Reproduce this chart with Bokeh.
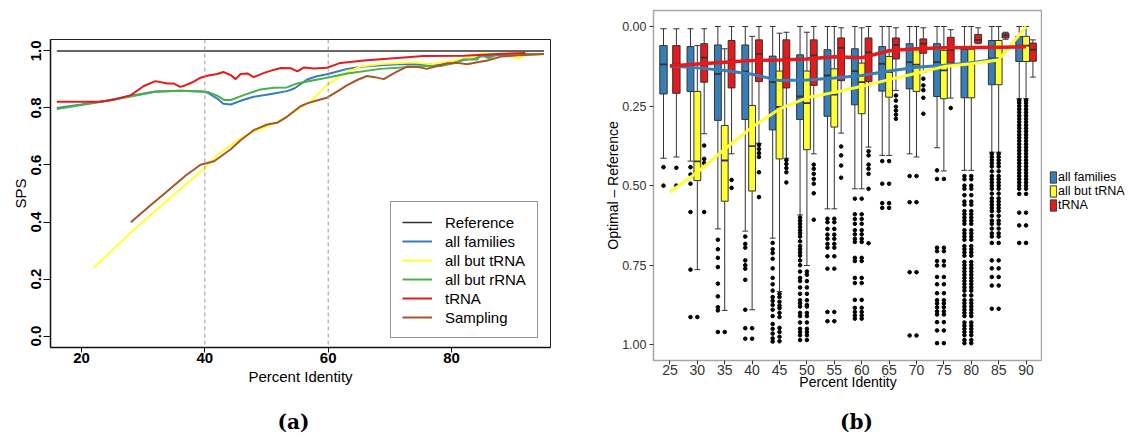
import numpy as np
from bokeh.plotting import figure
from bokeh.models import (Range1d, FixedTicker, NumeralTickFormatter, Span, Legend,
                          LegendItem, CustomJSTickFormatter)
from bokeh.layouts import row, column
from bokeh.embed import file_html
from bokeh.resources import INLINE
from bokeh.core.properties import value

FONT = "Liberation Sans"
BLUE, YELLOW, GREEN, RED, BROWN = "#377EB8", "#FFFF33", "#4DAF4A", "#E41A1C", "#A65628"

# ---------------- panel (a): SPS against percent identity ----------------
ref_x = [16, 95]
ref_y = [1.0, 1.0]

fam_x = [16, 20, 24, 28, 32, 36, 39.5, 40.5, 42, 43, 44.2, 45.8, 47.9, 50, 51.2, 53.3, 54.5,
         55.5, 56.6, 58, 59.8, 61.5, 63.1, 65.8, 68.5, 71.2, 75.5, 78.2, 80, 82, 84.7, 87.4, 91, 95]
fam_y = [0.800, 0.812, 0.825, 0.843, 0.858, 0.860, 0.858, 0.853, 0.833, 0.815, 0.812, 0.825,
         0.839, 0.846, 0.851, 0.859, 0.868, 0.883, 0.900, 0.910, 0.918, 0.928, 0.937, 0.945,
         0.950, 0.953, 0.953, 0.953, 0.958, 0.968, 0.980, 0.985, 0.987, 0.989]

notrna_x = [22, 28.1, 34, 40.2, 42, 44.2, 46, 47.9, 50, 52.3, 55.5, 57.1, 59.8, 62.5, 65.2, 68.5,
            73.9, 76.6, 79.3, 83.6, 84.7, 86.8, 89, 90.8, 92.2, 95]
notrna_y = [0.240, 0.365, 0.478, 0.593, 0.635, 0.669, 0.695, 0.716, 0.735, 0.754, 0.802, 0.822,
            0.880, 0.919, 0.945, 0.954, 0.960, 0.953, 0.962, 0.978, 0.990, 0.990, 0.988, 0.972,
            0.988, 0.989]

norrna_x = [16, 20, 24, 28, 32, 36, 39.5, 40.5, 42, 43.1, 44.2, 46.3, 49, 51.2, 53.3, 55, 56.6,
            59.8, 63.1, 68.5, 75.5, 78.2, 80, 82, 84.2, 84.7, 86.1, 87.4, 91, 95]
norrna_y = [0.796, 0.810, 0.824, 0.840, 0.857, 0.860, 0.858, 0.856, 0.843, 0.828, 0.828, 0.845,
            0.865, 0.871, 0.872, 0.886, 0.893, 0.906, 0.921, 0.937, 0.947, 0.947, 0.955, 0.970,
            0.970, 0.986, 0.974, 0.989, 0.988, 0.989]

trna_x = [16, 20, 23, 25.5, 28, 30.1, 32, 33.9, 34.9, 36, 36.8, 38, 39.3, 40.4, 42, 43, 44.2, 45,
          45.8, 46.9, 47.9, 49.5, 50.6, 52.3, 54, 55, 56.1, 57.7, 59.8, 62, 65.8, 71.2, 75.5, 82,
          87.4, 92]
trna_y = [0.822, 0.822, 0.822, 0.830, 0.845, 0.877, 0.894, 0.886, 0.886, 0.874, 0.879, 0.890,
          0.906, 0.913, 0.919, 0.926, 0.915, 0.901, 0.919, 0.921, 0.908, 0.922, 0.930, 0.940,
          0.939, 0.928, 0.942, 0.938, 0.941, 0.958, 0.966, 0.975, 0.982, 0.983, 0.989, 0.993]

samp_x = [28, 31, 34, 37, 39.3, 41.5, 44.2, 45.8, 47.9, 50.1, 51.7, 53.3, 55.5, 56.6, 58, 59.8,
          61.5, 63.1, 64.7, 66.3, 67.6, 69, 70.9, 72.8, 74.4, 76, 77.7, 79.3, 81, 82.5, 84.2,
          85.8, 88, 91, 95]
samp_y = [0.399, 0.455, 0.510, 0.565, 0.601, 0.613, 0.655, 0.687, 0.722, 0.742, 0.748, 0.769,
          0.806, 0.816, 0.825, 0.836, 0.858, 0.880, 0.898, 0.912, 0.908, 0.901, 0.925, 0.945,
          0.944, 0.937, 0.947, 0.957, 0.958, 0.953, 0.960, 0.966, 0.980, 0.985, 0.989]

x_ticks_a = [20, 40, 60, 80]
y_ticks_a = [0.0, 0.2, 0.4, 0.6, 0.8, 1.0]
guide_x = [40, 60]

pa = figure(width=560, height=396, x_range=Range1d(14.97, 96.05), y_range=Range1d(-0.04, 1.04),
            output_backend="svg", toolbar_location=None,
            min_border_left=50, min_border_right=10, min_border_top=39, min_border_bottom=49)
pa.xgrid.visible = False
pa.ygrid.visible = False
pa.outline_line_color = "#222222"
pa.outline_line_width = 1
pa.background_fill_color = "white"
pa.border_fill_color = "white"

for ax in (pa.xaxis[0], pa.yaxis[0]):
    ax.axis_line_color = "#111111"
    ax.axis_line_width = 1.5
    ax.major_tick_line_color = "#111111"
    ax.major_tick_in = 0
    ax.minor_tick_line_color = None
    ax.major_label_text_font = FONT
    ax.major_label_text_font_style = "bold"
    ax.major_label_text_font_size = "15px"
    ax.major_label_text_color = "black"
    ax.axis_label_text_font = FONT
    ax.axis_label_text_font_style = "normal"
    ax.axis_label_text_font_size = "15px"
    ax.axis_label_text_color = "black"

pa.xaxis.ticker = FixedTicker(ticks=x_ticks_a)
pa.xaxis.major_tick_out = 5
pa.xaxis.major_label_standoff = 0
pa.xaxis.axis_label = "Percent Identity"
pa.xaxis.axis_label_standoff = 2

pa.yaxis.ticker = FixedTicker(ticks=y_ticks_a)
pa.yaxis.formatter = NumeralTickFormatter(format="0.0")
pa.yaxis.major_label_orientation = "vertical"
pa.yaxis.major_tick_out = 7
pa.yaxis.major_label_standoff = 2
pa.yaxis.axis_label = "SPS"
pa.yaxis.axis_label_standoff = 0

for gx in guide_x:
    pa.add_layout(Span(location=gx, dimension="height", line_color="#9a9a9a",
                       line_width=1, line_dash="4 3"))

r_ref = pa.line(ref_x, ref_y, line_color="#333333", line_width=1.5)
r_fam = pa.line(fam_x, fam_y, line_color=BLUE, line_width=2)
r_notrna = pa.line(notrna_x, notrna_y, line_color=YELLOW, line_width=2)
r_norrna = pa.line(norrna_x, norrna_y, line_color=GREEN, line_width=2)
r_trna = pa.line(trna_x, trna_y, line_color=RED, line_width=2)
r_samp = pa.line(samp_x, samp_y, line_color=BROWN, line_width=2)

leg_a = Legend(items=[
    LegendItem(label="Reference", renderers=[r_ref]),
    LegendItem(label="all families", renderers=[r_fam]),
    LegendItem(label="all but tRNA", renderers=[r_notrna]),
    LegendItem(label="all but rRNA", renderers=[r_norrna]),
    LegendItem(label="tRNA", renderers=[r_trna]),
    LegendItem(label="Sampling", renderers=[r_samp]),
], location=(340, 9))
leg_a.label_text_font = FONT
leg_a.label_text_font_size = "15px"
leg_a.label_text_color = "black"
leg_a.glyph_width = 30
leg_a.glyph_height = 18
leg_a.label_height = 18
leg_a.spacing = 1
leg_a.padding = 11
leg_a.margin = 0
leg_a.label_standoff = 13
leg_a.border_line_color = "#333333"
leg_a.border_line_width = 1
leg_a.background_fill_alpha = 1
pa.add_layout(leg_a)

# ---------------- panel (b): boxplots of optimal - reference ----------------
pct = [25, 30, 35, 40, 45, 50, 55, 60, 65, 70, 75, 80, 85, 90]

# all families
fam_lo = [0.007, 0.007, 0.0, 0.0, 0.0, 0.0, 0.0, 0.0, 0.0, 0.0, 0.0, 0.0, 0.0, 0.0]
fam_q1 = [0.060, 0.063, 0.058, 0.058, 0.093, 0.089, 0.073, 0.070, 0.063, 0.054, 0.054, 0.063, 0.044, 0.031]
fam_med = [0.119, 0.128, 0.149, 0.141, 0.175, 0.220, 0.154, 0.140, 0.117, 0.112, 0.112, 0.070, 0.100, 0.060]
fam_q3 = [0.212, 0.204, 0.295, 0.292, 0.325, 0.292, 0.282, 0.246, 0.203, 0.196, 0.220, 0.224, 0.183, 0.110]
fam_hi = [0.414, 0.423, 0.636, 0.643, 0.665, 0.592, 0.573, 0.510, 0.405, 0.400, 0.381, 0.452, 0.395, 0.227]

# all but tRNA (no data at 25 %)
nt_pct = [30, 35, 40, 45, 50, 55, 60, 65, 70, 75, 80, 85, 90]
nt_lo = [0.060, 0.070, 0.031, 0.021, 0.018, 0.0, 0.004, 0.0, 0.0, 0.0, 0.0, 0.0, 0.0]
nt_q1 = [0.204, 0.311, 0.248, 0.140, 0.140, 0.133, 0.115, 0.094, 0.073, 0.075, 0.063, 0.044, 0.031]
nt_med = [0.424, 0.421, 0.376, 0.253, 0.241, 0.214, 0.175, 0.143, 0.120, 0.138, 0.070, 0.100, 0.060]
nt_q3 = [0.484, 0.549, 0.517, 0.416, 0.387, 0.316, 0.274, 0.222, 0.204, 0.227, 0.224, 0.183, 0.110]
nt_hi = [0.764, 0.892, 0.890, 0.833, 0.751, 0.573, 0.510, 0.405, 0.410, 0.454, 0.452, 0.395, 0.227]

# tRNA
tr_lo = [0.007, 0.007, 0.0, 0.0, 0.018, 0.0, 0.004, 0.0, 0.004, 0.004, 0.010, 0.004, 0.018, 0.042]
tr_q1 = [0.060, 0.054, 0.044, 0.042, 0.042, 0.042, 0.036, 0.036, 0.036, 0.039, 0.034, 0.025, 0.021, 0.052]
tr_med = [0.120, 0.098, 0.107, 0.086, 0.100, 0.091, 0.067, 0.081, 0.058, 0.054, 0.073, 0.042, 0.028, 0.073]
tr_q3 = [0.210, 0.175, 0.193, 0.173, 0.193, 0.185, 0.170, 0.173, 0.102, 0.084, 0.115, 0.052, 0.036, 0.109]
tr_hi = [0.410, 0.337, 0.400, 0.367, 0.414, 0.400, 0.335, 0.379, 0.201, 0.143, 0.225, 0.054, 0.040, 0.159]

fam_out = [
    [0.442, 0.500],
    [0.442, 0.465, 0.494, 0.583, 0.764, 0.913],
    [0.670, 0.700, 0.727, 0.756, 0.808, 0.848, 0.882, 0.892, 0.960],
    [0.660, 0.683, 0.695, 0.735, 0.750, 0.761, 0.796, 0.890, 0.948, 0.981],
    [0.680, 0.700, 0.712, 0.730, 0.760, 0.790, 0.810, 0.830, 0.850, 0.862, 0.875, 0.890, 0.910,
     0.935, 0.950, 0.965, 0.980, 0.990],
    [0.600, 0.610, 0.620, 0.630, 0.640, 0.650, 0.660, 0.675, 0.690, 0.700, 0.710, 0.720, 0.735,
     0.750, 0.770, 0.790, 0.800, 0.820, 0.840, 0.860, 0.870, 0.880, 0.900, 0.910, 0.930, 0.950,
     0.960, 0.970, 0.985],
    [0.604, 0.615, 0.636, 0.654, 0.667, 0.683, 0.695, 0.722, 0.761, 0.897, 0.926],
    [0.541, 0.590, 0.605, 0.620, 0.640, 0.653, 0.667, 0.677, 0.727, 0.737, 0.790, 0.806, 0.859,
     0.884, 0.897, 0.908, 0.918],
    [0.423, 0.494, 0.555, 0.570],
    [0.470, 0.552, 0.772, 0.971],
    [0.452, 0.479, 0.695, 0.706, 0.737, 0.751, 0.787, 0.810, 0.838, 0.860, 0.870, 0.882, 0.895,
     0.905, 0.929, 0.955, 0.995],
    [0.470, 0.480, 0.500, 0.510, 0.530, 0.550, 0.560, 0.580, 0.590, 0.600, 0.610, 0.620, 0.640,
     0.650, 0.660, 0.670, 0.690, 0.700, 0.710, 0.720, 0.740, 0.750, 0.760, 0.770, 0.780, 0.790,
     0.800, 0.810, 0.820, 0.830, 0.845, 0.860, 0.870, 0.880, 0.890, 0.900, 0.910, 0.930, 0.940,
     0.950, 0.960, 0.970, 0.985, 0.995],
    [0.400, 0.410, 0.420, 0.430, 0.440, 0.455, 0.470, 0.480, 0.490, 0.500, 0.510, 0.525, 0.540,
     0.550, 0.560, 0.570, 0.580, 0.595, 0.610, 0.620, 0.635, 0.650, 0.660, 0.680, 0.735, 0.760,
     0.787, 0.814, 0.887],
    [0.232, 0.240, 0.250, 0.260, 0.270, 0.280, 0.290, 0.300, 0.310, 0.320, 0.330, 0.340, 0.350,
     0.360, 0.370, 0.380, 0.390, 0.400, 0.410, 0.420, 0.430, 0.440, 0.450, 0.460, 0.470, 0.480,
     0.490, 0.500, 0.510, 0.526, 0.585, 0.625, 0.680],
]
nt_out = [
    [0.913],
    [0.960],
    [0.948, 0.981],
    [0.840, 0.850, 0.865, 0.877, 0.885, 0.900, 0.913, 0.947, 0.960, 0.975, 0.989],
    [0.770, 0.780, 0.800, 0.820, 0.840, 0.860, 0.875, 0.880, 0.900, 0.910, 0.930, 0.950, 0.960,
     0.970, 0.985],
    [0.604, 0.615, 0.636, 0.654, 0.667, 0.683, 0.695, 0.722, 0.761, 0.897, 0.926],
    [0.541, 0.590, 0.605, 0.620, 0.640, 0.653, 0.667, 0.677, 0.727, 0.737, 0.790, 0.806, 0.859,
     0.884, 0.897, 0.908, 0.918],
    [0.423, 0.494, 0.555, 0.570],
    [0.470, 0.552, 0.772, 0.971],
    [0.479, 0.695, 0.706, 0.737, 0.751, 0.787, 0.810, 0.838, 0.860, 0.870, 0.882, 0.895, 0.905,
     0.929, 0.955, 0.995],
    [0.470, 0.480, 0.500, 0.510, 0.530, 0.550, 0.560, 0.580, 0.590, 0.600, 0.610, 0.620, 0.640,
     0.650, 0.660, 0.670, 0.690, 0.700, 0.710, 0.720, 0.740, 0.750, 0.760, 0.770, 0.780, 0.790,
     0.800, 0.810, 0.820, 0.830, 0.845, 0.860, 0.870, 0.880, 0.890, 0.900, 0.910, 0.930, 0.940,
     0.950, 0.960, 0.970, 0.985, 0.995],
    [0.400, 0.410, 0.420, 0.430, 0.440, 0.455, 0.470, 0.480, 0.490, 0.500, 0.510, 0.525, 0.540,
     0.550, 0.560, 0.570, 0.580, 0.595, 0.610, 0.620, 0.635, 0.650, 0.660, 0.680, 0.735, 0.760,
     0.787, 0.814, 0.887],
    [0.232, 0.240, 0.250, 0.260, 0.270, 0.280, 0.290, 0.300, 0.310, 0.320, 0.330, 0.340, 0.350,
     0.360, 0.370, 0.380, 0.390, 0.400, 0.410, 0.420, 0.430, 0.440, 0.450, 0.460, 0.470, 0.480,
     0.490, 0.500, 0.510, 0.526, 0.585, 0.625, 0.680],
]
tr_out = [
    [0.444, 0.500],
    [0.374, 0.416, 0.429, 0.583],
    [0.482, 0.507],
    [0.372, 0.385, 0.398, 0.410, 0.458, 0.536],
    [0.420, 0.432, 0.445, 0.458, 0.490],
    [0.434, 0.447, 0.463, 0.479, 0.494, 0.524, 0.607],
    [0.377, 0.405, 0.437, 0.475],
    [0.392, 0.405, 0.434, 0.447, 0.463, 0.510, 0.681],
    [0.217, 0.233, 0.252, 0.264, 0.277, 0.290],
    [0.164, 0.185, 0.200, 0.224, 0.274],
    [0.256],
    [],
    [],
    [],
]

# smoothed trend of each group
fam_trend_pct = [25, 30, 35, 40, 45, 50, 55, 60, 65, 70, 75, 80, 85]
fam_trend = [0.124, 0.130, 0.138, 0.150, 0.170, 0.168, 0.162, 0.154, 0.140, 0.128, 0.122, 0.114, 0.102]
nt_trend = [0.520, 0.458, 0.385, 0.316, 0.259, 0.224, 0.207, 0.188, 0.167, 0.147, 0.126, 0.117, 0.105, 0.0]
tr_trend = [0.124, 0.118, 0.112, 0.107, 0.105, 0.102, 0.095, 0.098, 0.076, 0.070, 0.067, 0.066, 0.065, 0.064]

y_ticks_b = [0.0, 0.25, 0.5, 0.75, 1.0]

pb = figure(width=482, height=396, x_range=Range1d(0.4, 14.6), y_range=Range1d(1.0495, -0.0503),
            output_backend="svg", toolbar_location=None,
            min_border_left=93, min_border_right=0, min_border_top=10, min_border_bottom=36)
pb.xgrid.visible = False
pb.ygrid.visible = False
pb.outline_line_color = "#a6a6a6"
pb.outline_line_width = 1.5
pb.background_fill_color = "white"
pb.border_fill_color = "white"

for ax in (pb.xaxis[0], pb.yaxis[0]):
    ax.axis_line_color = None
    ax.major_tick_line_color = "#333333"
    ax.major_tick_in = 0
    ax.major_tick_out = 4
    ax.minor_tick_line_color = None
    ax.major_label_text_font = FONT
    ax.major_label_text_color = "#333333"
    ax.axis_label_text_font = FONT
    ax.axis_label_text_font_style = "normal"
    ax.axis_label_text_font_size = "14px"
    ax.axis_label_text_color = "black"

pb.xaxis.ticker = FixedTicker(ticks=list(range(1, len(pct) + 1)))
pb.xaxis.formatter = CustomJSTickFormatter(
    args=dict(labels=[str(v) for v in pct]),
    code="const i = Math.round(tick) - 1; return (i >= 0 && i < labels.length) ? labels[i] : '';")
pb.xaxis.major_label_text_font_size = "14px"
pb.xaxis.major_label_standoff = 0
pb.xaxis.axis_label = "Percent Identity"
pb.xaxis.axis_label_standoff = -4

pb.yaxis.ticker = FixedTicker(ticks=y_ticks_b)
pb.yaxis.formatter = NumeralTickFormatter(format="0.00")
pb.yaxis.major_label_text_font_size = "12.5px"
pb.yaxis.major_label_standoff = 3
pb.yaxis.axis_label = "Optimal \u2013 Reference"
pb.yaxis.axis_label_standoff = -2

groups = [
    ("all families", pct, fam_lo, fam_q1, fam_med, fam_q3, fam_hi, fam_out, BLUE),
    ("all but tRNA", nt_pct, nt_lo, nt_q1, nt_med, nt_q3, nt_hi, nt_out, YELLOW),
    ("tRNA", pct, tr_lo, tr_q1, tr_med, tr_q3, tr_hi, tr_out, RED),
]

# dodge: how many groups are present at each identity level
present = {p: sum(p in g[1] for g in groups) for p in pct}


def dodge(group_no, p):
    n = present[p]
    slot = 0.25 if n == 3 else 0.47
    width = 0.25 if n == 3 else 0.27
    order = [i for i, g in enumerate(groups) if p in g[1]].index(group_no)
    return pct.index(p) + 1 + (order - (n - 1) / 2) * slot, width


for gi, (name, gp, lo, q1, med, q3, hi, outs, col) in enumerate(groups):
    xs, ws = zip(*[dodge(gi, p) for p in gp])
    xs = np.array(xs)
    ws = np.array(ws)
    cw = ws * 0.85
    # whiskers and caps
    pb.segment(xs, lo, xs, q1, line_color="#333333", line_width=1)
    pb.segment(xs, q3, xs, hi, line_color="#333333", line_width=1)
    pb.segment(xs - cw / 2, lo, xs + cw / 2, lo, line_color="#333333", line_width=1)
    pb.segment(xs - cw / 2, hi, xs + cw / 2, hi, line_color="#333333", line_width=1)
    # outliers
    ox = [x for x, o in zip(xs, outs) for _ in o]
    oy = [v for o in outs for v in o]
    pb.scatter(ox, oy, size=3.6, color="black")
    # boxes and medians
    pb.vbar(x=xs, width=ws, top=q1, bottom=q3, fill_color=col,
            line_color="#333333", line_width=1)
    pb.segment(xs - ws / 2, med, xs + ws / 2, med, line_color="#333333", line_width=1.8)

pos = {p: pct.index(p) + 1 for p in pct}
pb.line([pos[p] for p in fam_trend_pct], fam_trend, line_color=BLUE, line_width=3)
pb.line([pos[p] for p in pct], nt_trend, line_color=YELLOW, line_width=3)
pb.line([pos[p] for p in pct], tr_trend, line_color=RED, line_width=3.5)

# ---------------- legend strip for panel (b) ----------------
pl = figure(width=105, height=396, x_range=Range1d(0, 1), y_range=Range1d(0, 1),
            output_backend="svg", toolbar_location=None, min_border=0)
pl.axis.visible = False
pl.grid.visible = False
pl.outline_line_color = None
key_items = []
for name, _, _, _, _, _, _, _, col in groups:
    # key glyph only: the single bar lies outside the visible range
    rk = pl.vbar(x=[5], width=0.1, top=[5], bottom=[4], fill_color=col,
                 line_color="#333333", line_width=1)
    key_items.append(LegendItem(label=name, renderers=[rk]))
leg_b = Legend(items=key_items, location=(7, 184))
leg_b.label_text_font = FONT
leg_b.label_text_font_size = "12.5px"
leg_b.label_text_color = "black"
leg_b.glyph_width = 8
leg_b.glyph_height = 14
leg_b.label_height = 14
leg_b.spacing = 0
leg_b.padding = 0
leg_b.margin = 0
leg_b.label_standoff = 1
leg_b.border_line_color = None
leg_b.background_fill_alpha = 0
pl.add_layout(leg_b)

# ---------------- panel captions ----------------
pc = figure(width=1147, height=41, x_range=Range1d(0, 1147), y_range=Range1d(41, 0),
            output_backend="svg", toolbar_location=None, min_border=0)
pc.axis.visible = False
pc.grid.visible = False
pc.outline_line_color = None
pc.text(x=[293, 856], y=[25, 25], text=["(a)", "(b)"], text_font=value("DejaVu Serif"),
        text_font_style="bold", text_font_size="20px", text_align="center",
        text_baseline="middle", text_color="black")

top_row = row(column(pa), column(pb), column(pl), spacing=0)
layout = column(top_row, pc, spacing=0)
open("out.html", "w").write(file_html(layout, INLINE))
